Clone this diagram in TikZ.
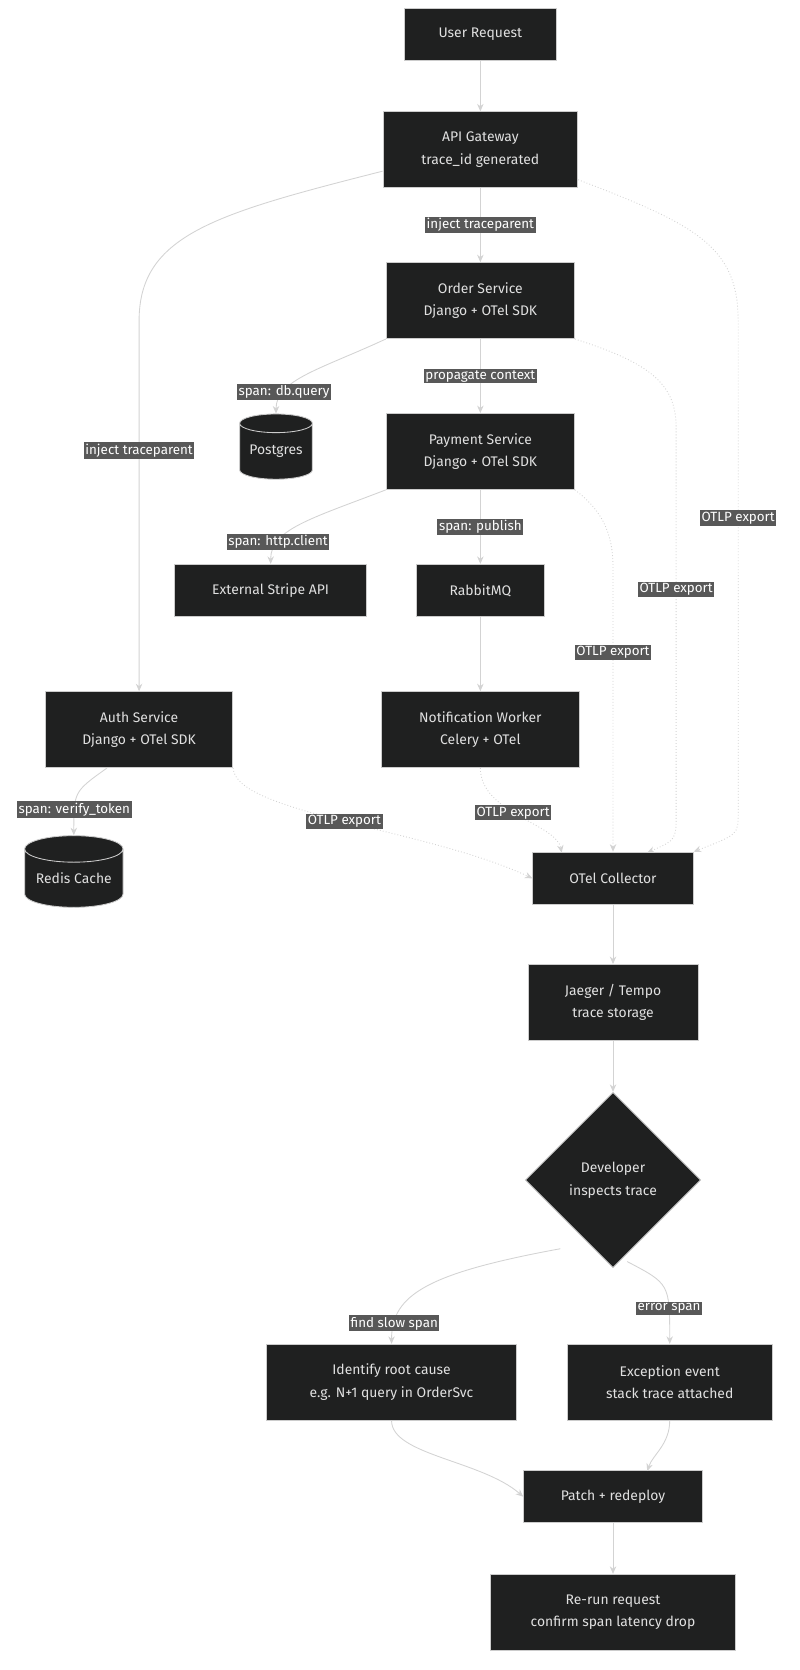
\documentclass[tikz,border=0pt]{standalone}
\usepackage{fontspec}
\setmainfont{Fira Sans}
\usetikzlibrary{shapes.geometric,arrows.meta}
\definecolor{boxfill}{HTML}{1F2020}
\definecolor{boxline}{HTML}{CCCCCC}
\definecolor{edge}{HTML}{D3D3D3}
\definecolor{lblfill}{HTML}{585858}
\tikzset{
  box/.style={draw=boxline, fill=boxfill, text=white!88!black, line width=0.8pt, align=center,
    font=\fontsize{13}{21}\selectfont, inner sep=0pt},
  db/.style={box, cylinder, shape border rotate=90, aspect=0.35},
  flow/.style={draw=edge, line width=0.8pt, -{Stealth[length=7pt,width=6pt]}},
  otlp/.style={flow, dotted},
  lbl/.style={fill=lblfill, text=white, font=\fontsize{12.5}{14}\selectfont, inner sep=1.5pt}
}
\begin{document}
\begin{tikzpicture}[x=1pt,y=-1pt]
  \useasboundingbox[fill=white] (0,0) rectangle (747,1561);

  \node[box, minimum width=142, minimum height=49](user) at (449,32){User Request};
  \node[box, minimum width=182, minimum height=71](gw) at (449,140){API Gateway\\trace\_id generated};
  \node[box, minimum width=176, minimum height=71](order) at (449,281){Order Service\\Django + OTel SDK};
  \node[db, minimum width=68, minimum height=61](pg) at (258,422){Postgres};
  \node[box, minimum width=176, minimum height=71](pay) at (449,422){Payment Service\\Django + OTel SDK};
  \node[box, minimum width=179, minimum height=49](stripe) at (253,552){External Stripe API};
  \node[box, minimum width=119, minimum height=49](rabbit) at (449,552){RabbitMQ};
  \node[box, minimum width=175, minimum height=71](auth) at (130,682){Auth Service\\Django + OTel SDK};
  \node[box, minimum width=185, minimum height=71](notif) at (449,682){Notification Worker\\Celery + OTel};
  \node[db, minimum width=92, minimum height=67](redis) at (69,821){Redis Cache};
  \node[box, minimum width=150, minimum height=49](coll) at (573,821){OTel Collector};
  \node[box, minimum width=159, minimum height=71](store) at (573,937){Jaeger / Tempo\\trace storage};
  \node[box, diamond, minimum width=164, minimum height=164](dev) at (573,1103){Developer\\inspects trace};
  \node[box, minimum width=233, minimum height=71](cause) at (366,1292){Identify root cause\\e.g. N+1 query in OrderSvc};
  \node[box, minimum width=192, minimum height=71](exc) at (626,1292){Exception event\\stack trace attached};
  \node[box, minimum width=167, minimum height=49](patch) at (573,1399){Patch + redeploy};
  \node[box, minimum width=229, minimum height=71](rerun) at (573,1507){Re-run request\\confirm span latency drop};

  \draw[flow] (user) -- (gw);
  \draw[flow] (gw) -- node[lbl]{inject traceparent} (order);
  \draw[flow] (gw.west |- 0,160) .. controls (200,200) and (130,220) .. (130,300)
    -- node[lbl, pos=0.35]{inject traceparent} (auth.north);
  \draw[otlp] (gw.east |- 0,168) .. controls (650,210) and (690,230) .. (690,300)
    -- node[lbl, pos=0.4]{OTLP export} (690,760) .. controls (690,780) .. (coll.north east);

  \draw[flow] (order) -- node[lbl]{propagate context} (pay);
  \draw[flow] (order.south west) .. controls (300,345) and (258,355) .. node[lbl, pos=0.75]{span: db.query} (pg.north);
  \draw[otlp] (order.south east) .. controls (610,340) and (632,360) .. (632,400)
    -- node[lbl, pos=0.42]{OTLP export} (632,760) .. controls (632,785) .. (605,797);

  \draw[flow] (pay.south west) .. controls (290,485) and (253,495) .. node[lbl, pos=0.75]{span: http.client} (stripe.north);
  \draw[flow] (pay) -- node[lbl]{span: publish} (rabbit);
  \draw[otlp] (pay.south east) .. controls (560,475) and (573,495) .. (573,530)
    -- node[lbl, pos=0.3]{OTLP export} (coll.north);
  \draw[flow] (rabbit) -- (notif);
  \draw[otlp] (notif.south) .. controls (449,760) and (520,770) .. node[lbl, pos=0.45]{OTLP export} (525,797);

  \draw[flow] (auth.south) ++(-30,0) .. controls (69,740) .. node[lbl, pos=0.75]{span: verify\_token} (redis.north);
  \draw[otlp] (auth.south east) .. controls (220,760) and (400,775) .. node[lbl, pos=0.5]{OTLP export} (coll.west);

  \draw[flow] (coll) -- (store);
  \draw[flow] (store) -- (dev);
  \draw[flow] (dev.south west) ++(-8,23) .. controls (400,1190) and (366,1210) .. node[lbl, pos=0.85]{find slow span} (cause.north);
  \draw[flow] (dev.south east) ++(-28,35) .. controls (626,1200) .. node[lbl, pos=0.75]{error span} (exc.north);
  \draw[flow] (cause.south) .. controls (366,1360) and (450,1365) .. (patch.west);
  \draw[flow] (exc.south) .. controls (626,1350) and (610,1360) .. (605,1375);
  \draw[flow] (patch) -- (rerun);
\end{tikzpicture}
\end{document}
